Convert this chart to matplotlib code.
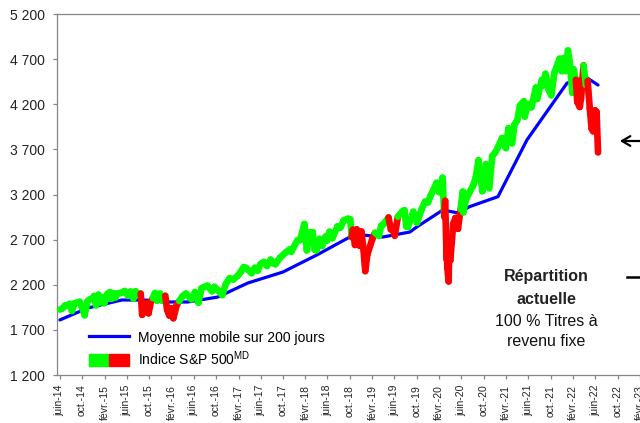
import numpy as np
import pandas as pd
import matplotlib
matplotlib.use('Agg')
import matplotlib.pyplot as plt
import matplotlib.dates as mdates
from matplotlib.collections import LineCollection
from matplotlib.lines import Line2D
from matplotlib.patches import Patch
from matplotlib.legend_handler import HandlerTuple

plt.rcParams['font.family'] = ['Liberation Sans', 'DejaVu Sans']

# S&P 500 index
idx_dates = [
    '2014-06-02', '2014-06-16', '2014-07-01', '2014-07-15', '2014-07-24', '2014-08-07',
    '2014-08-21', '2014-09-02', '2014-09-18', '2014-10-01', '2014-10-15', '2014-10-31',
    '2014-11-14', '2014-12-01', '2014-12-05', '2014-12-16', '2014-12-29', '2015-01-06',
    '2015-01-22', '2015-01-30', '2015-02-17', '2015-03-02', '2015-03-10', '2015-03-20',
    '2015-04-01', '2015-04-15', '2015-05-01', '2015-05-21', '2015-06-08', '2015-06-23',
    '2015-07-08', '2015-07-20', '2015-08-03', '2015-08-17', '2015-08-25', '2015-09-01',
    '2015-09-16', '2015-09-29', '2015-10-12', '2015-10-22', '2015-11-03', '2015-11-13',
    '2015-12-01', '2015-12-14', '2015-12-29', '2016-01-08', '2016-01-20', '2016-02-01',
    '2016-02-11', '2016-03-01', '2016-03-14', '2016-04-01', '2016-04-20', '2016-05-19',
    '2016-06-08', '2016-06-27', '2016-07-14', '2016-08-15', '2016-09-09', '2016-09-22',
    '2016-10-14', '2016-11-04', '2016-11-22', '2016-12-13', '2017-01-03', '2017-01-26',
    '2017-02-15', '2017-03-01', '2017-03-15', '2017-04-13', '2017-05-01', '2017-05-17',
    '2017-06-01', '2017-06-19', '2017-07-06', '2017-07-26', '2017-08-10', '2017-08-21',
    '2017-09-15', '2017-10-16', '2017-11-07', '2017-11-15', '2017-12-18', '2018-01-02',
    '2018-01-26', '2018-02-08', '2018-02-26', '2018-03-01', '2018-03-12', '2018-03-23',
    '2018-04-02', '2018-04-18', '2018-05-03', '2018-05-21', '2018-05-29', '2018-06-12',
    '2018-06-28', '2018-07-25', '2018-08-10', '2018-08-29', '2018-09-20', '2018-10-03',
    '2018-10-11', '2018-10-17', '2018-10-29', '2018-11-07', '2018-11-23', '2018-12-03',
    '2018-12-14', '2018-12-24', '2019-01-04', '2019-01-31', '2019-02-15', '2019-03-08',
    '2019-03-21', '2019-04-01', '2019-04-30', '2019-05-13', '2019-05-20', '2019-06-03',
    '2019-06-20', '2019-07-15', '2019-07-26', '2019-08-05', '2019-08-14', '2019-09-12',
    '2019-10-02', '2019-10-28', '2019-11-15', '2019-12-02', '2019-12-16', '2020-01-02',
    '2020-01-17', '2020-01-31', '2020-02-19', '2020-02-28', '2020-03-04', '2020-03-12',
    '2020-03-13', '2020-03-16', '2020-03-23', '2020-03-26', '2020-04-01', '2020-04-17',
    '2020-04-29', '2020-05-13', '2020-05-27', '2020-06-08', '2020-06-11', '2020-06-23',
    '2020-07-15', '2020-08-03', '2020-08-18', '2020-09-02', '2020-09-23', '2020-10-12',
    '2020-10-30', '2020-11-16', '2020-12-01', '2020-12-17', '2021-01-08', '2021-01-29',
    '2021-02-12', '2021-03-04', '2021-03-17', '2021-04-01', '2021-04-16', '2021-05-07',
    '2021-05-12', '2021-05-28', '2021-06-18', '2021-07-12', '2021-07-19', '2021-08-13',
    '2021-08-19', '2021-09-02', '2021-09-20', '2021-10-04', '2021-10-21', '2021-11-18',
    '2021-11-30', '2021-12-10', '2021-12-20', '2022-01-03', '2022-01-13', '2022-01-27',
    '2022-02-02', '2022-02-15', '2022-02-23', '2022-03-08', '2022-03-15', '2022-03-29',
    '2022-04-11', '2022-04-20', '2022-05-02', '2022-05-12', '2022-05-20', '2022-05-31',
    '2022-06-08', '2022-06-16']
idx_values = [
    1925, 1937, 1973, 1973, 1988, 1910,
    1992, 2002, 2011, 1946, 1862, 2018,
    2039, 2053, 2075, 1972, 2090, 2003,
    2063, 1995, 2100, 2117, 2044, 2108,
    2059, 2106, 2108, 2131, 2080, 2124,
    2047, 2128, 2098, 2102, 1867, 1914,
    1996, 1884, 2017, 2052, 2109, 2023,
    2102, 2022, 2078, 1922, 1859, 1940,
    1829, 1978, 2019, 2073, 2102, 2040,
    2119, 2001, 2163, 2190, 2128, 2177,
    2133, 2085, 2203, 2271, 2258, 2297,
    2349, 2396, 2385, 2329, 2388, 2357,
    2430, 2453, 2409, 2478, 2438, 2428,
    2500, 2557, 2591, 2565, 2690, 2695,
    2873, 2581, 2780, 2677, 2783, 2588,
    2582, 2708, 2630, 2733, 2690, 2787,
    2716, 2846, 2833, 2914, 2931, 2925,
    2728, 2809, 2641, 2814, 2633, 2790,
    2600, 2351, 2532, 2704, 2775, 2743,
    2855, 2867, 2946, 2812, 2840, 2744,
    2954, 3014, 3026, 2845, 2840, 3009,
    2888, 3040, 3120, 3113, 3191, 3258,
    3330, 3226, 3386, 2954, 3130, 2481,
    2711, 2386, 2237, 2630, 2470, 2875,
    2940, 2820, 3036, 3232, 3002, 3131,
    3227, 3295, 3390, 3580, 3237, 3535,
    3270, 3627, 3662, 3722, 3825, 3714,
    3934, 3768, 3975, 4020, 4185, 4233,
    4063, 4204, 4166, 4385, 4258, 4468,
    4405, 4537, 4358, 4300, 4550, 4704,
    4567, 4712, 4568, 4796, 4659, 4326,
    4589, 4471, 4225, 4170, 4262, 4631,
    4413, 4459, 4155, 3930, 3901, 4132,
    4115, 3666]

# 200-day moving average
ma_dates = ['2014-06-02', '2014-11-01', '2015-05-06', '2015-09-08', '2015-12-27',
            '2016-04-30', '2016-10-11', '2017-03-23', '2017-10-01', '2018-04-04',
            '2018-10-01', '2018-12-11', '2019-03-30', '2019-08-24', '2019-10-01',
            '2020-02-20', '2020-05-15', '2020-07-15', '2020-12-17', '2021-05-24',
            '2021-12-29', '2022-04-10', '2022-06-16']
ma_values = [1810, 1942, 2031, 2031, 2009,
             2009, 2064, 2219, 2341, 2530,
             2729, 2751, 2729, 2784, 2840,
             3028, 2995, 3065, 3176, 3804,
             4435, 4502, 4413]

# periods drawn in red (index under the average)
red_start = ['2015-08-20', '2015-12-31', '2018-10-10', '2019-05-06', '2020-02-25',
             '2022-02-17', '2022-04-20']
red_end = ['2015-10-26', '2016-03-18', '2019-02-08', '2019-06-20', '2020-05-28',
           '2022-03-30', '2022-06-17']

y_ticks = [1200, 1700, 2200, 2700, 3200, 3700, 4200, 4700, 5200]
month_names = {2: 'févr.', 6: 'juin', 10: 'oct.'}

# --------------------------------------------------------------
fig = plt.figure(figsize=(6.4, 4.23), dpi=100)
x_min = mdates.date2num(pd.Timestamp('2014-05-19'))
x_max = mdates.date2num(pd.Timestamp('2023-04-01'))
px_day = 0.1833
ax = fig.add_axes([57.3/640, 48/423, (x_max - x_min)*px_day/640, 361/423])

xi = mdates.date2num(pd.to_datetime(idx_dates))
yi = np.array(idx_values, dtype=float)
xm = mdates.date2num(pd.to_datetime(ma_dates))
rs = mdates.date2num(pd.to_datetime(red_start))
re_ = mdates.date2num(pd.to_datetime(red_end))

ax.plot(xm, ma_values, color='#0000ff', lw=2.3, solid_capstyle='round', zorder=2)

pts = np.column_stack([xi, yi])
segs = np.stack([pts[:-1], pts[1:]], axis=1)
mid = (xi[:-1] + xi[1:]) / 2
is_red = np.array([np.any((m >= rs) & (m <= re_)) for m in mid])
colors = np.where(is_red, '#ff0000', '#00ff00')
lc = LineCollection(segs, colors=colors, linewidths=4.8, capstyle='round',
                    joinstyle='round', zorder=3)
ax.add_collection(lc)

ax.set_xlim(x_min, x_max)
ax.set_ylim(1200, 5200)

tick_dates = pd.date_range('2014-06-01', '2023-02-01', freq='4MS')
ax.set_xticks(mdates.date2num(tick_dates))
ax.set_xticklabels(['%s-%s' % (month_names[d.month], str(d.year)[2:]) for d in tick_dates],
                   rotation=90, fontsize=7.5, color='#222222',
                   family=['Liberation Sans Narrow', 'Liberation Sans'])
ax.set_yticks(y_ticks)
ax.set_yticklabels([f'{v:,}'.replace(',', ' ') for v in y_ticks], fontsize=10, color='#222222')

for s in ax.spines.values():
    s.set_color('#868686')
    s.set_linewidth(0.9)
ax.tick_params(axis='x', direction='out', length=3, width=0.9, color='#868686', pad=4)
ax.tick_params(axis='y', direction='out', length=3, width=0.9, color='#868686', pad=6)

h_ma = Line2D([], [], color='#0000ff', lw=2.3)
h_idx = (Patch(color='#00ff00'), Patch(color='#ff0000'))
ax.legend([h_ma, h_idx], ['Moyenne mobile sur 200 jours', r'Indice S&P 500$^{\mathregular{MD}}$'],
          handler_map={tuple: HandlerTuple(ndivide=None, pad=0)},
          loc='lower left', bbox_to_anchor=(89/640, 55/423), bbox_transform=fig.transFigure,
          frameon=False, fontsize=10, handlelength=2.9, handleheight=0.9,
          handletextpad=0.6, borderpad=0, borderaxespad=0, labelspacing=0.35)

fig.text(546/640, 1 - 277/423, 'Répartition', ha='center', va='center', fontsize=11.5, fontweight='bold', color='#222222')
fig.text(546/640, 1 - 299/423, 'actuelle', ha='center', va='center', fontsize=11.5, fontweight='bold', color='#222222')
fig.text(546/640, 1 - 321/423, '100 % Titres à', ha='center', va='center', fontsize=11.5, color='#111111')
fig.text(546/640, 1 - 341/423, 'revenu fixe', ha='center', va='center', fontsize=11.5, color='#111111')

ax.annotate('', xy=(617/640, 1 - 141/423), xytext=(1.01, 1 - 141/423),
            xycoords='figure fraction', textcoords='figure fraction',
            arrowprops=dict(arrowstyle='->, head_length=0.6, head_width=0.35', color='black', lw=1.6))
fig.add_artist(Line2D([627/640, 1.0], [1 - 277/423, 1 - 277/423], color='black', lw=1.8,
                      transform=fig.transFigure))

fig.savefig('out.png', dpi=100)
